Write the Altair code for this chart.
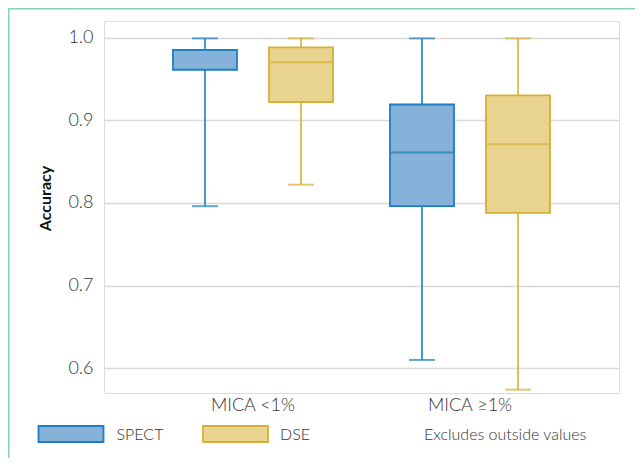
import altair as alt
import pandas as pd

# ---- data ----
groups = ["MICA <1%", "MICA <1%", "MICA ≥1%", "MICA ≥1%"]
methods = ["SPECT", "DSE", "SPECT", "DSE"]
lower = [0.796, 0.822, 0.610, 0.574]
q1 = [0.961, 0.922, 0.796, 0.788]
median = [0.985, 0.970, 0.861, 0.871]
q3 = [0.985, 0.988, 0.919, 0.930]
upper = [0.999, 0.999, 0.999, 0.999]
group_order = ["MICA <1%", "MICA ≥1%"]
method_order = ["SPECT", "DSE"]
y_ticks = [0.6, 0.7, 0.8, 0.9, 1.0]
note_text = ["Excludes outside values"]

fill_colors = ["#86b1d9", "#e8d38f"]
stroke_colors = ["#1b7fc1", "#d6af38"]

df = pd.DataFrame(dict(group=groups, method=methods, lower=lower, q1=q1,
                       median=median, q3=q3, upper=upper))
note_df = pd.DataFrame(dict(note=note_text))

FONT = "Lato"
TXT = "#333333"

x = alt.X("group:N",
          scale=alt.Scale(domain=group_order, paddingInner=0, paddingOuter=0.1866),
          axis=alt.Axis(title=None, labelAngle=0, ticks=False, domain=False,
                        labelPadding=3, labelFontSize=18, labelFont=FONT,
                        labelFontWeight=300, labelColor=TXT))
xo = alt.XOffset("method:N",
                 scale=alt.Scale(domain=method_order, paddingInner=0, paddingOuter=0.13))
yscale = alt.Scale(domain=[0.57, 1.02], nice=False, zero=False)
yaxis = alt.Axis(title="Accuracy", values=y_ticks, format=".1f", ticks=False,
                 domain=False, grid=True, gridColor="#d9d9d9", gridWidth=1.6,
                 labelPadding=11, labelFontSize=18, labelFont=FONT,
                 labelFontWeight=300, labelColor=TXT,
                 titleFont=FONT, titleFontSize=16, titleFontWeight="bold",
                 titleColor="#111111", titlePadding=14, titleY=177)

stroke_scale = alt.Scale(domain=method_order, range=stroke_colors)
fill_scale = alt.Scale(domain=method_order, range=fill_colors)

base = alt.Chart(df)

whisker = base.mark_rule(strokeWidth=1.6).encode(
    x=x, xOffset=xo,
    y=alt.Y("lower:Q", scale=yscale, axis=yaxis),
    y2="upper:Q",
    color=alt.Color("method:N", scale=stroke_scale, legend=None),
)

caps_low = base.mark_tick(size=26, thickness=2).encode(
    x=x, xOffset=xo, y=alt.Y("lower:Q"),
    color=alt.Color("method:N", scale=stroke_scale, legend=None),
)
caps_high = base.mark_tick(size=26, thickness=2).encode(
    x=x, xOffset=xo, y=alt.Y("upper:Q"),
    color=alt.Color("method:N", scale=stroke_scale, legend=None),
)

box = base.mark_bar(size=64, strokeWidth=1.8).encode(
    x=x, xOffset=xo, y=alt.Y("q1:Q"), y2="q3:Q",
    fill=alt.Fill("method:N", scale=fill_scale, legend=None),
    stroke=alt.Stroke("method:N", scale=stroke_scale, legend=None),
)

med = base.mark_tick(size=64, thickness=2).encode(
    x=x, xOffset=xo, y=alt.Y("median:Q"),
    color=alt.Color("method:N", scale=stroke_scale, legend=None),
)

# ---- legend (drawn as marks, colours taken from the same scales) ----
def legend_item(name, sx, tx):
    d = pd.DataFrame(dict(method=[name]))
    sw = alt.Chart(d).mark_rect(strokeWidth=1.8).encode(
        x=alt.value(sx), x2=alt.value(sx + 65), y=alt.value(405), y2=alt.value(421),
        fill=alt.Fill("method:N", scale=fill_scale, legend=None),
        stroke=alt.Stroke("method:N", scale=stroke_scale, legend=None),
    )
    lb = alt.Chart(d).mark_text(
        align="left", baseline="middle", fontSize=16, font=FONT, fontWeight=300, color=TXT
    ).encode(x=alt.value(tx), y=alt.value(413.5), text="method:N")
    return sw, lb

sw1, lb1 = legend_item(method_order[0], -65.5, 12.5)
sw2, lb2 = legend_item(method_order[1], 99, 176)

note = alt.Chart(note_df).mark_text(
    align="left", baseline="middle", fontSize=16, font=FONT, fontWeight=300, color=TXT
).encode(x=alt.value(320), y=alt.value(413.5), text="note:N")

frame_left = alt.Chart(note_df).mark_rule(stroke="#86d3bb", strokeWidth=1.5).encode(
    x=alt.value(-95.25), y=alt.value(-12.25), y2=alt.value(460))
frame_top = alt.Chart(note_df).mark_rule(stroke="#86d3bb", strokeWidth=1.5).encode(
    x=alt.value(-96), x2=alt.value(560), y=alt.value(-12.25))

chart = alt.layer(frame_left, frame_top, whisker, caps_low, caps_high, box, med,
                  sw1, lb1, sw2, lb2, note).properties(
    width=515, height=372,
    autosize=alt.AutoSizeParams(type="none"),
    padding={"left": 96, "top": 13, "right": 16, "bottom": 65},
).configure_view(stroke=None).configure(font=FONT)

chart.save("out.html", embed_options={"renderer": "svg", "actions": False})
